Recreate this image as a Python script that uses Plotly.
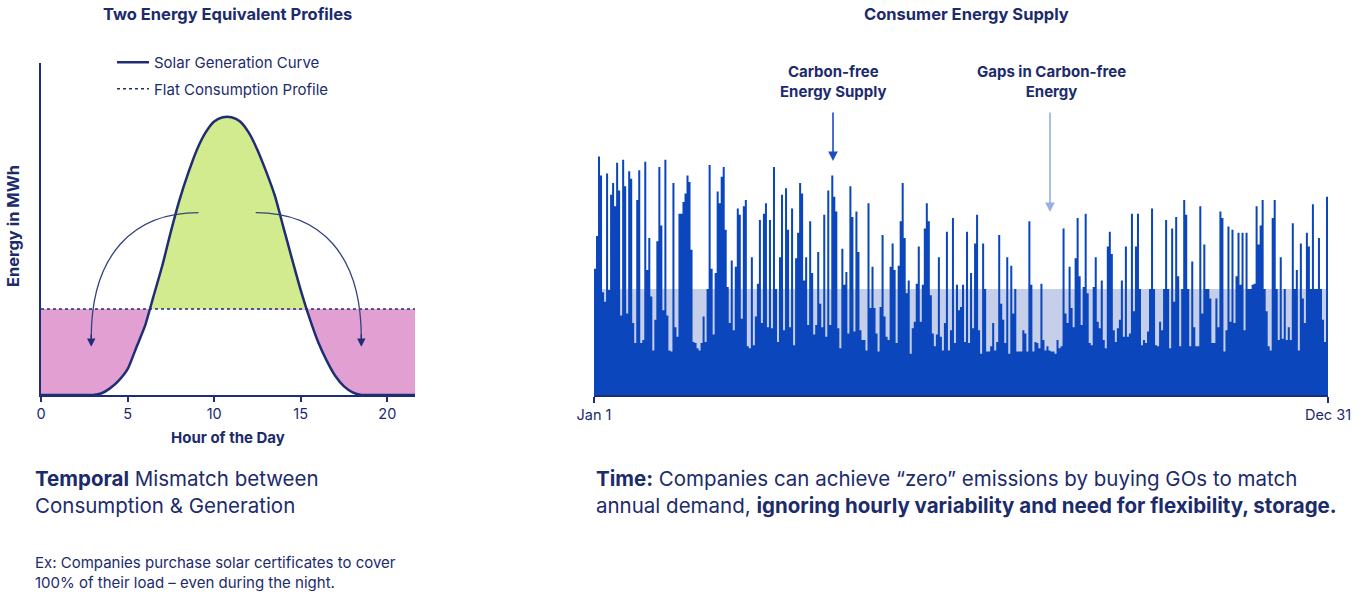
import numpy as np
import plotly.graph_objects as go

# ---------------- data ----------------
# Left chart: hourly solar generation (flat consumption = 100)
hours = [0, 1, 2, 3, 3.5, 4, 4.5, 5, 5.5, 6, 6.5, 7, 7.5, 8, 8.5, 9, 9.5, 10, 10.5,
         11, 11.5, 12, 12.5, 13, 13.5, 14, 14.5, 15, 15.5, 16, 16.5, 17, 17.5, 18,
         18.5, 19, 20, 21, 21.6]
solar = [0, 0, 0, 0, 2, 8, 17, 30, 55, 80, 115, 150, 190, 227, 258, 285, 305, 318, 323,
         323, 318, 305, 285, 260, 232, 195, 158, 122, 90, 62, 40, 22, 10, 3,
         0, 0, 0, 0, 0]
flat_level = 100
left_ticks = [0, 5, 10, 15, 20]

# Right chart: daily carbon-free supply vs flat demand (demand = 100)
supply_part1 = [119, 150, 225, 207, 97, 88, 209, 99, 189, 200, 178, 219, 193, 75, 222, 197, 77, 211, 204, 68,
                49, 184, 212, 49, 52, 220, 118, 148, 93, 42, 71, 145, 215, 160, 80, 222, 75, 42, 41, 200,
                64, 55, 171, 171, 182, 190, 207, 201, 137, 50, 49, 44, 42, 49, 74, 50, 100, 217, 119, 57,
                115, 192, 181, 206, 215, 156, 102, 68, 127, 61, 121, 176, 170, 72, 178, 184, 46, 44, 130, 47,
                74, 105, 165, 68, 171, 181, 64, 165, 63, 215, 100]
supply_part2 = [50, 130, 189, 61, 195, 156, 64, 176, 47, 129, 153, 200, 190, 108, 130, 66, 164, 115, 57, 66,
                135, 86, 64, 170, 55, 193, 66, 207, 187, 173, 63, 44, 138, 104, 116, 58, 197, 168, 60, 173,
                135, 61, 52, 52, 42, 181, 82, 121, 82, 58, 41, 83, 151, 74, 55, 52, 121, 143, 118, 49,
                122, 164, 200, 148, 96, 108, 39, 63, 69, 105, 140, 69, 104, 157, 181, 164, 94, 58, 46, 57,
                130, 55, 42, 68, 154, 42, 61, 167, 49, 104, 80]
supply_part3 = [83, 104, 50, 154, 49, 115, 63, 143, 170, 61, 39, 143, 100, 41, 41, 46, 68, 42, 50, 151,
                86, 71, 49, 130, 39, 122, 77, 100, 41, 41, 41, 61, 58, 41, 164, 104, 41, 50, 49, 44,
                105, 52, 42, 46, 42, 41, 41, 39, 52, 44, 46, 157, 77, 68, 121, 82, 64, 129, 167, 112,
                66, 102, 171, 96, 49, 47, 102, 130, 69, 63, 108, 52, 44, 140, 154, 133, 61, 50, 63, 71,
                108, 55, 140, 55, 58, 171, 79, 140, 171, 100, 47, 52]
supply_part4 = [49, 60, 100, 176, 100, 47, 46, 69, 61, 100, 165, 100, 44, 157, 88, 168, 112, 46, 100, 184, 170,
                100, 46, 126, 64, 46, 46, 178, 77, 142, 100, 100, 91, 49, 49, 91, 64, 173, 167, 41, 61,
                159, 69, 156, 68, 112, 153, 104, 153, 61, 153, 100, 100, 104, 105, 178, 142, 160, 184, 100, 79,
                46, 42, 167, 184, 100, 52, 130, 53, 100, 52, 64, 52, 162, 100, 118, 42, 143, 91, 68, 153,
                140, 100, 180, 100, 100, 148, 100, 71, 50, 187]
demand_level = 100
date_labels = ["Jan 1", "Dec 31"]

# ---------------- styling ----------------
W, H = 1360, 600
NAVY = "#1c2b6b"
LINE = "#1f2e74"
GREEN = "#d3eb8f"
PINK = "#e2a0d2"
DARK_BLUE = "#0b46bd"
LIGHT_BLUE = "#c5cfea"
FONT = "Inter"


def px_x(p):
    return p / W


def px_y(p):
    return 1 - p / H


supply = supply_part1 + supply_part2 + supply_part3 + supply_part4
n = len(supply)
days = np.arange(1, n + 1)
edges = np.concatenate([days - 0.5, [n + 0.5]])
supply_steps = supply + [supply[-1]]

hx = np.array(hours, float)
sy = np.array(solar, float)
fine_x = np.linspace(hx.min(), hx.max(), 800)
fine_y = np.interp(fine_x, hx, sy)
under = np.minimum(fine_y, flat_level)

fig = go.Figure()

# ---- left chart ----
fig.add_trace(go.Scatter(x=hours, y=solar, mode="lines", line=dict(width=0, color=GREEN),
                         fill="tozeroy", fillcolor=GREEN, showlegend=False, hoverinfo="skip",
                         xaxis="x", yaxis="y"))
fig.add_trace(go.Scatter(x=[hx.min(), hx.max()], y=[flat_level, flat_level], mode="lines",
                         line=dict(width=0, color=PINK), fill="tozeroy", fillcolor=PINK,
                         showlegend=False, hoverinfo="skip", xaxis="x", yaxis="y"))
fig.add_trace(go.Scatter(x=fine_x, y=under, mode="lines", line=dict(width=0, color="white"),
                         fill="tozeroy", fillcolor="white", showlegend=False, hoverinfo="skip",
                         xaxis="x", yaxis="y"))
fig.add_trace(go.Scatter(x=hours, y=solar, mode="lines", name="Solar Generation Curve",
                         legendgroup="solar",
                         line=dict(width=2.5, color=LINE, shape="spline", smoothing=0.6),
                         xaxis="x", yaxis="y"))
fig.add_trace(go.Scatter(x=[hx.min(), hx.max()], y=[flat_level, flat_level], mode="lines",
                         name="Flat Consumption Profile", legendgroup="flat",
                         line=dict(width=1.6, color=LINE, dash="dot"), xaxis="x", yaxis="y"))

# ---- right chart ----
fig.add_trace(go.Scatter(x=[edges[0], edges[-1]], y=[demand_level, demand_level], mode="lines",
                         line=dict(width=0, color=LIGHT_BLUE), fill="tozeroy", fillcolor=LIGHT_BLUE,
                         showlegend=False, hoverinfo="skip", xaxis="x2", yaxis="y2"))
fig.add_trace(go.Scatter(x=edges, y=supply_steps, mode="lines", line=dict(width=0, shape="hv", color=DARK_BLUE),
                         fill="tozeroy", fillcolor=DARK_BLUE, showlegend=False, xaxis="x2", yaxis="y2"))

y_dom = [px_y(395), px_y(63)]
left_range_top = flat_level * (395 - 63) / (395 - 309)
right_range_top = demand_level * (395 - 63) / (395 - 289)

axis_font = dict(family=FONT, size=14.5, color=NAVY)
fig.update_layout(
    width=W, height=H, autosize=False,
    margin=dict(l=0, r=0, t=0, b=0, pad=0, autoexpand=False),
    paper_bgcolor="white", plot_bgcolor="rgba(0,0,0,0)",
    font=dict(family=FONT, color=NAVY),
    xaxis=dict(domain=[px_x(41), px_x(415)], range=[0, 21.6], showgrid=False, zeroline=False,
               showline=True, linecolor=LINE, linewidth=2, ticks="outside", ticklen=5, tickwidth=1.5,
               tickcolor=LINE, tickvals=left_ticks, tickfont=axis_font, anchor="y", automargin=False),
    yaxis=dict(domain=y_dom, range=[0, left_range_top], showgrid=False, zeroline=False,
               showline=True, linecolor=LINE, linewidth=2, showticklabels=False, ticks="", anchor="x",
               automargin=False),
    xaxis2=dict(domain=[px_x(594), px_x(1328)], range=[edges[0], edges[-1]], showgrid=False,
                zeroline=False, showline=True, linecolor=LINE, linewidth=2, ticks="outside", ticklen=6,
                tickwidth=1.5, tickcolor=LINE, tickvals=[edges[0], edges[-1]], ticktext=date_labels,
                tickfont=axis_font, anchor="y2", automargin=False),
    yaxis2=dict(domain=y_dom, range=[0, right_range_top], visible=False, anchor="x2", automargin=False),
    legend=dict(x=px_x(112), y=px_y(46), xanchor="left", yanchor="top", bgcolor="rgba(0,0,0,0)",
                font=dict(family=FONT, size=15, color=NAVY), itemwidth=32, tracegroupgap=4),
    showlegend=True,
)

# curved arrows (left chart)
arrow_col = "#34427f"
fig.add_shape(type="path", xref="x", yref="y",
              path="M 9.1,212 C 5.4,212 2.9,165 2.9,66", line=dict(color=arrow_col, width=1.3))
fig.add_shape(type="path", xref="x", yref="y",
              path="M 12.4,212 C 16.1,212 18.5,165 18.5,66", line=dict(color=arrow_col, width=1.3))
for tipx in (2.9, 18.5):
    fig.add_annotation(x=tipx, y=56, ax=tipx, ay=72, xref="x", yref="y", axref="x", ayref="y",
                       text="", showarrow=True, arrowhead=2, arrowsize=1.3, arrowwidth=1.3,
                       arrowcolor=LINE)

annos = [
    dict(x=px_x(228), y=px_y(14), text="<b>Two Energy Equivalent Profiles</b>", size=16.5),
    dict(x=px_x(966), y=px_y(14), text="<b>Consumer Energy Supply</b>", size=16.5),
    dict(x=px_x(228), y=px_y(437), text="<b>Hour of the Day</b>", size=15),
    dict(x=px_x(833), y=px_y(81), text="<b>Carbon-free<br>Energy Supply</b>", size=15),
    dict(x=px_x(1051), y=px_y(81), text="<b>Gaps in Carbon-free<br>Energy</b>", size=15),
]
for a in annos:
    fig.add_annotation(x=a["x"], y=a["y"], xref="paper", yref="paper", text=a["text"], showarrow=False,
                       font=dict(family=FONT, size=a["size"], color=NAVY), xanchor="center", yanchor="middle")

fig.add_annotation(x=px_x(13), y=px_y(226), xref="paper", yref="paper", text="<b>Energy in MWh</b>",
                   textangle=-90, showarrow=False, font=dict(family=FONT, size=16.5, color=NAVY),
                   xanchor="center", yanchor="middle")

# annotation arrows (right chart)
fig.add_annotation(x=px_x(833), y=px_y(161), xref="paper", yref="paper", ax=0, ay=-50, text="",
                   showarrow=True, arrowhead=2, arrowsize=1.2, arrowwidth=1.6, arrowcolor="#1b4ec2")
fig.add_annotation(x=px_x(1050), y=px_y(212), xref="paper", yref="paper", ax=0, ay=-101, text="",
                   showarrow=True, arrowhead=2, arrowsize=1.2, arrowwidth=1.6, arrowcolor="#98aee4")

# bottom captions
fig.add_annotation(x=px_x(33), y=px_y(492), xref="paper", yref="paper", xanchor="left", yanchor="middle",
                   align="left", showarrow=False, font=dict(family=FONT, size=20.5, color=NAVY),
                   text="<b>Temporal</b> Mismatch between<br>Consumption &amp; Generation")
fig.add_annotation(x=px_x(33), y=px_y(572), xref="paper", yref="paper", xanchor="left", yanchor="middle",
                   align="left", showarrow=False, font=dict(family=FONT, size=15, color=NAVY),
                   text="Ex: Companies purchase solar certificates to cover<br>100% of their load \u2013 even during the night.")
fig.add_annotation(x=px_x(594), y=px_y(492), xref="paper", yref="paper", xanchor="left", yanchor="middle",
                   align="left", showarrow=False, font=dict(family=FONT, size=20.5, color=NAVY),
                   text="<b>Time:</b> Companies can achieve \u201czero\u201d emissions by buying GOs to match<br>"
                        "annual demand, <b>ignoring hourly variability and need for flexibility, storage.</b>")

fig.write_html("out.html", config={"responsive": False, "displayModeBar": False},
               post_script="document.body.style.margin='0';document.body.style.overflow='hidden';")
